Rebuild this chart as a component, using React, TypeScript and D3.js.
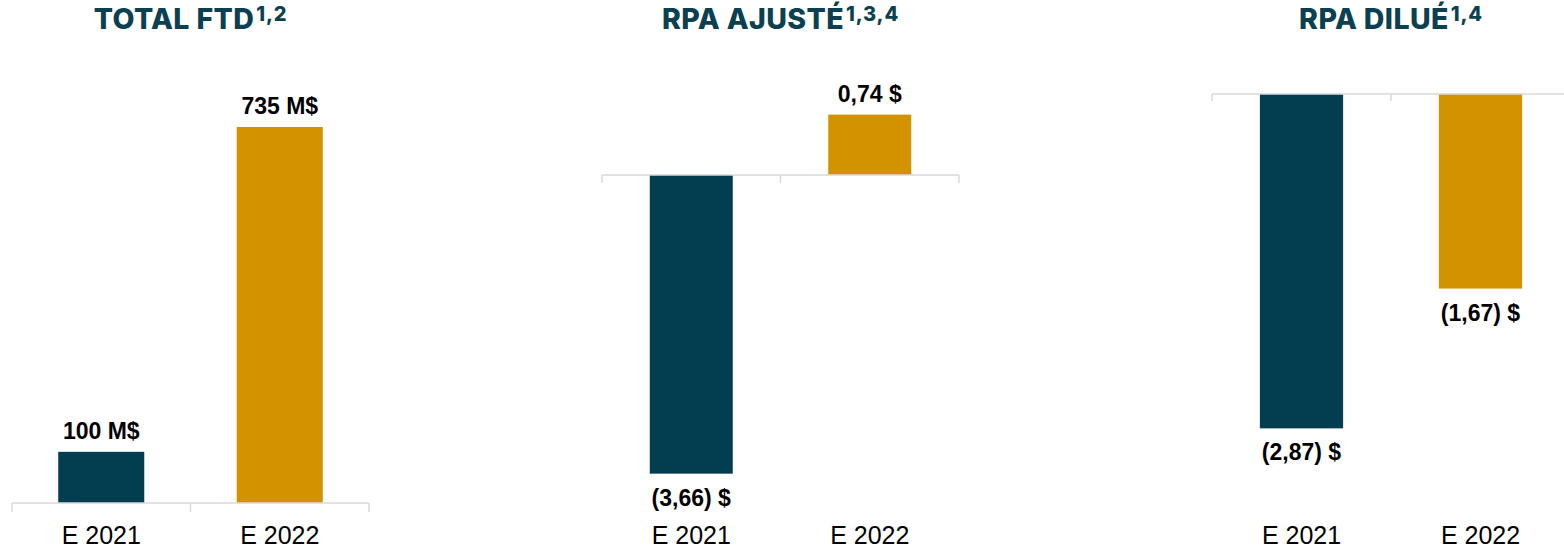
import * as d3 from 'd3';

// categories and values
const categories = ['E 2021', 'E 2022'];
const totalFtd = [100, 735];
const rpaAjuste = [-3.66, 0.74];
const rpaDilue = [-2.87, -1.67];
const totalFtdLabels = ['100 M$', '735 M$'];
const rpaAjusteLabels = ['(3,66) $', '0,74 $'];
const rpaDilueLabels = ['(2,87) $', '(1,67) $'];

const DARK = '#023e50';
const GOLD = '#d39200';
const TITLE = '#0b4050';
const AXIS = '#d9d9d9';

interface PanelProps {
    title: string;
    sup: string;
    values: number[];
    labels: string[];
    x0: number;
    x1: number;
    zeroY: number;
    perUnit: number;
    barFrac: number;
    tick: number;
}

function Panel({ title, sup, values, labels, x0, x1, zeroY, perUnit, barFrac, tick }: PanelProps) {
    const xScale = d3.scaleBand<string>().domain(categories).range([x0, x1]).padding(0);
    const yScale = d3.scaleLinear().domain([0, 1]).range([zeroY, zeroY - perUnit]);
    const bw = xScale.bandwidth() * barFrac;
    const edges = [...categories.map(c => xScale(c) as number), x1];
    const center = (x0 + x1) / 2;

    return (
        <g>
            <text x={center} y={29} textAnchor="middle" fill={TITLE}
                style={{ fontFamily: 'Inter, sans-serif', fontWeight: 800, fontSize: 28.5, letterSpacing: 0.4 }}>
                {title}
                <tspan dx={2} dy={-8} style={{ fontSize: 20, letterSpacing: 0.8 }}>{sup}</tspan>
            </text>
            {values.map((v, i) => {
                const cx = (xScale(categories[i]) as number) + xScale.bandwidth() / 2;
                const yTop = Math.min(yScale(v), yScale(0));
                const yBot = Math.max(yScale(v), yScale(0));
                const ly = v >= 0 ? yTop - 13 : yBot + 32;
                return (
                    <g key={i}>
                        <rect x={cx - bw / 2} y={yTop} width={bw} height={yBot - yTop} fill={i === 0 ? DARK : GOLD} />
                        <text x={cx} y={ly} textAnchor="middle" fill="#000"
                            style={{ fontFamily: 'Liberation Sans, Arial, sans-serif', fontWeight: 700, fontSize: 23 }}>
                            {labels[i]}
                        </text>
                        <text x={cx} y={544} textAnchor="middle" fill="#000"
                            style={{ fontFamily: 'Liberation Sans, Arial, sans-serif', fontSize: 25 }}>
                            {categories[i]}
                        </text>
                    </g>
                );
            })}
            <line x1={x0} x2={x1} y1={zeroY} y2={zeroY} stroke={AXIS} strokeWidth={1.5} />
            {edges.map((ex, i) => (
                <line key={i} x1={ex} x2={ex} y1={zeroY} y2={zeroY + tick} stroke={AXIS} strokeWidth={1.5} />
            ))}
        </g>
    );
}

export default function App() {
    return (
        <div style={{ position: 'absolute', left: 0, top: 0 }}>
            <svg width={1564} height={549} style={{ display: 'block', background: '#fff' }}>
                <Panel title="TOTAL FTD" sup="1,2" values={totalFtd} labels={totalFtdLabels}
                    x0={12} x1={369} zeroY={503} perUnit={376 / 735} barFrac={0.482} tick={9} />
                <Panel title="RPA AJUSTÉ" sup="1,3,4" values={rpaAjuste} labels={rpaAjusteLabels}
                    x0={602} x1={959} zeroY={175} perUnit={81.6} barFrac={0.465} tick={8} />
                <Panel title="RPA DILUÉ" sup="1,4" values={rpaDilue} labels={rpaDilueLabels}
                    x0={1212} x1={1570} zeroY={94} perUnit={116.5} barFrac={0.465} tick={7} />
            </svg>
        </div>
    );
}
